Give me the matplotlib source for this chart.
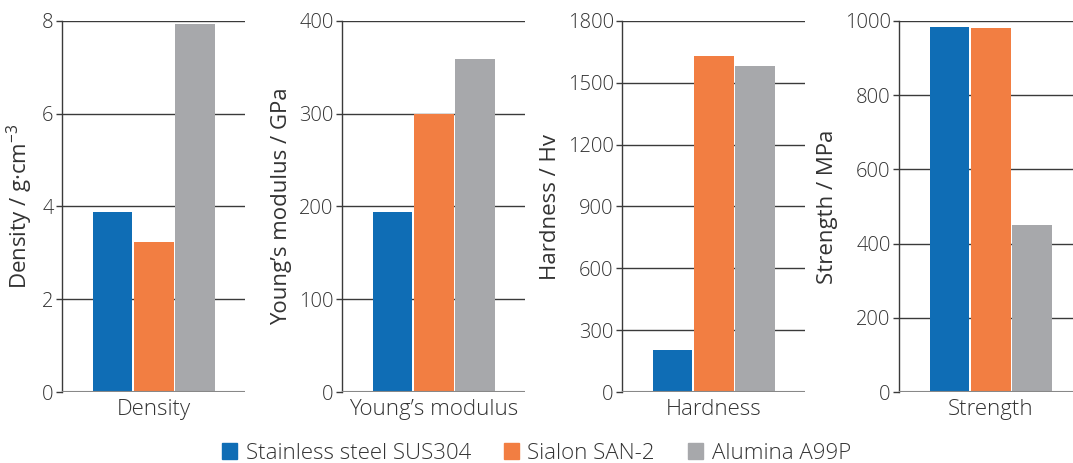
import matplotlib
matplotlib.use("Agg")
import matplotlib.pyplot as plt
from matplotlib.patches import Patch

plt.rcParams['font.family'] = ['Open Sans', 'DejaVu Sans']
plt.rcParams['font.weight'] = 'light'
plt.rcParams['mathtext.fontset'] = 'custom'
plt.rcParams['mathtext.rm'] = 'Open Sans:light'
plt.rcParams['mathtext.default'] = 'regular'

materials = ["Stainless steel SUS304", "Sialon SAN-2", "Alumina A99P"]
colors = ["#0f6db5", "#f27e42", "#a7a8ab"]

density = [3.88, 3.23, 7.94]
youngs = [194, 300, 359]
hardness = [202, 1628, 1580]
strength = [985, 981, 450]

panels = [
    ("Density", "Density / g·cm$^{-3}$", density, [0, 2, 4, 6, 8]),
    ("Young’s modulus", "Young’s modulus / GPa", youngs, [0, 100, 200, 300, 400]),
    ("Hardness", "Hardness / Hv", hardness, [0, 300, 600, 900, 1200, 1500, 1800]),
    ("Strength", "Strength / MPa", strength, [0, 200, 400, 600, 800, 1000]),
]

lefts = [62, 342, 622, 899]
txt = "#333333"
fig = plt.figure(figsize=(10.73, 4.63), dpi=100)

for (name, ylab, vals, ticks), lx in zip(panels, lefts):
    ax = fig.add_axes([lx / 1073, 1 - 392 / 463, 183 / 1073, 371 / 463])
    ax.bar([0, 1, 2], vals, width=0.96, color=colors, zorder=3)
    ax.set_xlim(-1.22, 3.2)
    ax.set_ylim(ticks[0], ticks[-1])
    ax.set_yticks(ticks)
    for t in ticks[1:]:
        ax.axhline(t, color="#3a3a3a", lw=1, zorder=1)
    ax.axhline(0, color="#888888", lw=1.5, zorder=4)
    ax.set_xticks([1])
    ax.set_xticklabels([name])
    ax.tick_params(axis="x", length=0, pad=5, labelsize=16, labelcolor=txt)
    ax.tick_params(axis="y", length=4, width=1, color="#3a3a3a", pad=2,
                   labelsize=14.5, labelcolor=txt)
    ax.set_ylabel(ylab, fontsize=16, color=txt, labelpad=5)
    for s in ["top", "right", "bottom"]:
        ax.spines[s].set_visible(False)
    ax.spines["left"].set_color("#3a3a3a")
    ax.spines["left"].set_linewidth(1)

handles = [Patch(color=c, label=m) for c, m in zip(colors, materials)]
fig.legend(handles=handles, loc="lower center", bbox_to_anchor=(0.5, -0.045),
           ncol=3, frameon=False, fontsize=16, handlelength=0.65,
           handleheight=0.75, handletextpad=0.4, columnspacing=1.5,
           labelcolor=txt)

fig.savefig("out.png", dpi=100)
